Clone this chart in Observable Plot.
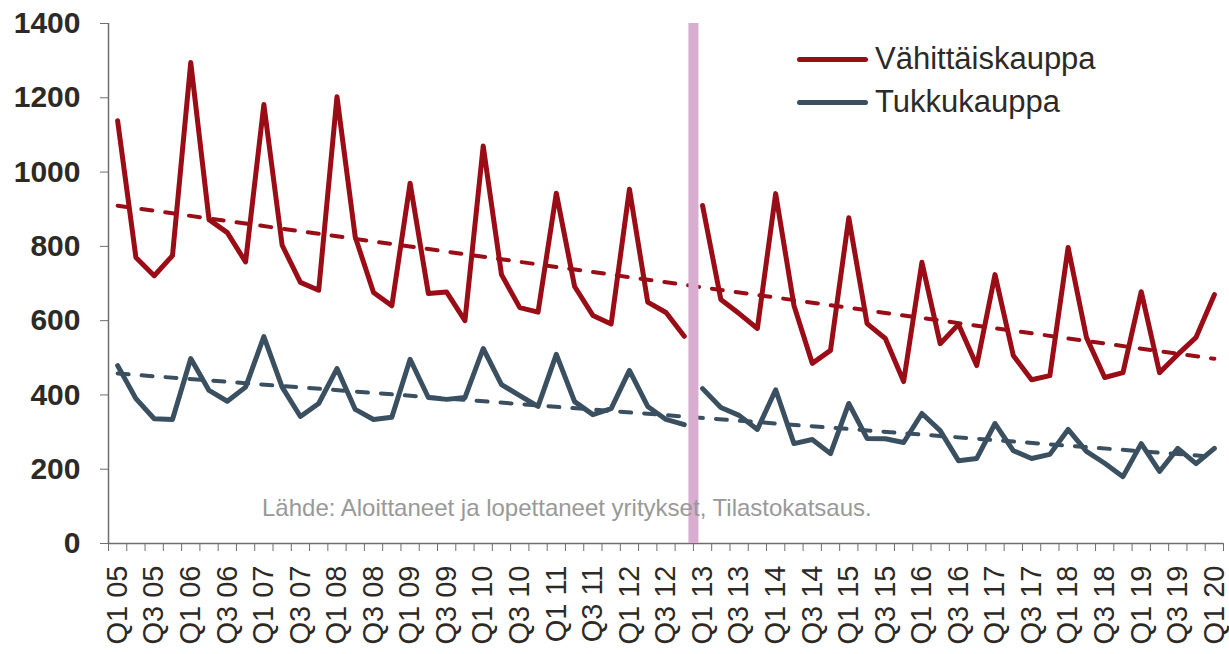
<!DOCTYPE html>
<html>
<head>
<meta charset="utf-8">
<script src="https://cdn.jsdelivr.net/npm/d3@7"></script>
<script src="https://cdn.jsdelivr.net/npm/@observablehq/plot@0.6"></script>
<style>
  html, body { margin: 0; padding: 0; background: #fff; }
  #wrap { position: relative; width: 1229px; height: 654px; overflow: hidden; font-family: "Liberation Sans", Arial, sans-serif; }
  .leg { position: absolute; left: 797px; display: flex; align-items: center; font-size: 31px; color: #2d2a26; white-space: nowrap; }
  .sw { width: 71px; height: 5px; border-radius: 3px; margin-right: 7px; }
  #src { position: absolute; left: 262px; top: 494px; font-size: 24px; color: #999; white-space: nowrap; }
</style>
</head>
<body>
<div id="wrap"></div>
<script>
const quarters = [];
for (let y = 5; y <= 20; y++) for (let q = 1; q <= 4; q++) {
  if (y === 20 && q > 1) break;
  quarters.push(`Q${q} ${String(y).padStart(2, "0")}`);
}

const vahittais = [
  1138, 770, 721, 775,
  1295, 872, 837, 758,
  1182, 803, 703, 682,
  1203, 825, 676, 640,
  970, 673, 677, 600,
  1070, 724, 635, 623,
  943, 692, 614, 591,
  954, 650, 622, 558,
  910, 657, 619, 579,
  942, 641, 485, 520,
  877, 592, 552, 436,
  757, 538, 590, 479,
  724, 506, 441, 452,
  797, 555, 447, 460,
  678, 460, 509, 555,
  670
];

const tukku = [
  479, 390, 336, 334,
  498, 412, 383, 421,
  557, 421, 342, 377,
  471, 361, 334, 340,
  496, 393, 388, 393,
  525, 428, 398, 369,
  509, 382, 347, 363,
  466, 369, 334, 320,
  417, 366, 345, 307,
  414, 269, 280, 242,
  377, 283, 282, 272,
  350, 304, 223, 229,
  323, 250, 229, 240,
  307, 248, 216, 180,
  269, 194, 256, 215,
  256
];

const yTicks = [0, 200, 400, 600, 800, 1000, 1200, 1400];
const breakLabel = "Q1 13";
const seriesNames = ["Vähittäiskauppa", "Tukkukauppa"];
const colors = ["#9b0d16", "#3a5061"];
const sourceText = "Lähde: Aloittaneet ja lopettaneet yritykset, Tilastokatsaus.";

const breakIdx = quarters.indexOf(breakLabel);
const rows = s => s.map((v, i) => ({ i, v, seg: i < breakIdx ? 0 : 1 }));
const redRows = rows(vahittais);
const blueRows = rows(tukku);
const boundaries = d3.range(-0.5, quarters.length, 1);
const labelIdx = d3.range(0, quarters.length, 2);
const axisColor = "#6e6e6e";
const textColor = "#2d2a26";

const chart = Plot.plot({
  width: 1229,
  height: 654,
  marginLeft: 108,
  marginRight: 6,
  marginTop: 23,
  marginBottom: 111,
  x: { domain: [-0.5, quarters.length - 0.5], axis: null },
  y: { domain: [0, 1400], axis: null },
  style: { fontFamily: "'Liberation Sans', Arial, sans-serif", background: "white", color: textColor },
  marks: [
    Plot.ruleX([-0.5], { stroke: axisColor, strokeWidth: 1.5 }),
    Plot.ruleY([0], { stroke: axisColor, strokeWidth: 1.5 }),
    Plot.axisY({ ticks: yTicks, label: null, tickSize: 8, tickPadding: 20, fontSize: 30, fontWeight: "bold", stroke: axisColor, fill: textColor, tickFormat: d => String(d) }),
    Plot.axisX(boundaries, { label: null, tickSize: 8, stroke: axisColor, tickFormat: () => "" }),
    Plot.axisX(labelIdx, { label: null, tickSize: 0, tickPadding: 22, tickRotate: -90, fontSize: 29, fill: textColor, tickFormat: i => quarters[i] }),
    Plot.linearRegressionY(redRows, { x: "i", y: "v", stroke: colors[0], strokeWidth: 4, strokeDasharray: "11,13", strokeLinecap: "round", ci: 0 }),
    Plot.linearRegressionY(blueRows, { x: "i", y: "v", stroke: colors[1], strokeWidth: 4, strokeDasharray: "11,13", strokeLinecap: "round", ci: 0 }),
    Plot.ruleX([breakIdx - 0.5], { stroke: "#d8adcf", strokeWidth: 10 }),
    Plot.line(redRows, { x: "i", y: "v", z: "seg", stroke: colors[0], strokeWidth: 5, strokeLinejoin: "round", strokeLinecap: "round" }),
    Plot.line(blueRows, { x: "i", y: "v", z: "seg", stroke: colors[1], strokeWidth: 5, strokeLinejoin: "round", strokeLinecap: "round" })
  ]
});

const wrap = document.getElementById("wrap");
wrap.appendChild(chart);

seriesNames.forEach((name, k) => {
  const d = document.createElement("div");
  d.className = "leg";
  d.style.top = (k === 0 ? 41 : 84) + "px";
  d.innerHTML = `<div class="sw" style="background:${colors[k]}"></div><span>${name}</span>`;
  wrap.appendChild(d);
});

const src = document.createElement("div");
src.id = "src";
src.textContent = sourceText;
wrap.appendChild(src);
</script>
</body>
</html>
